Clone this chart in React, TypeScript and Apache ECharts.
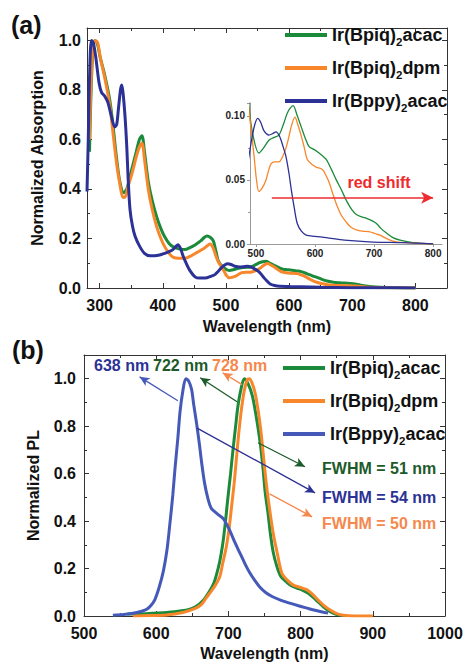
import React, { useEffect, useRef } from 'react';
import * as echarts from 'echarts';

// ---------- DATA ----------
const seriesNames = ['Ir(Bpiq)2acac', 'Ir(Bpiq)2dpm', 'Ir(Bppy)2acac'];

// (a) absorption, [wavelength nm, normalized absorption]
const absBpiqAcac: [number, number][] = [
  [284, 0.55], [288, 0.9], [292, 1.0], [296, 0.99], [301, 0.93], [308, 0.86], [316, 0.76], [321, 0.66],
  [327, 0.52], [332, 0.43], [338, 0.385], [343, 0.4], [351, 0.48], [358, 0.55], [363, 0.6], [367, 0.615],
  [371, 0.55], [377, 0.43], [383, 0.356], [390, 0.29], [397, 0.24], [403, 0.207], [410, 0.18], [416, 0.167],
  [425, 0.158], [435, 0.155], [443, 0.163], [451, 0.174], [460, 0.19], [466, 0.205], [470, 0.21], [475, 0.205],
  [480, 0.19], [484, 0.15], [488, 0.109], [495, 0.085], [505, 0.071], [513, 0.075], [522, 0.081], [530, 0.083],
  [539, 0.085], [547, 0.094], [553, 0.102], [558, 0.106], [563, 0.108], [570, 0.1], [577, 0.091], [584, 0.082],
  [590, 0.076], [597, 0.074], [604, 0.072], [612, 0.069], [619, 0.066], [628, 0.058], [636, 0.05], [645, 0.042],
  [653, 0.034], [662, 0.027], [670, 0.023], [680, 0.021], [687, 0.02], [697, 0.018], [704, 0.016], [712, 0.012],
  [721, 0.0085], [732, 0.005], [744, 0.003], [766, 0.001], [800, 0.0]
];
const absBpiqDpm: [number, number][] = [
  [284, 0.6], [288, 0.92], [293, 1.0], [297, 0.99], [301, 0.93], [308, 0.85], [316, 0.74], [321, 0.63],
  [327, 0.5], [332, 0.42], [337, 0.365], [341, 0.37], [345, 0.41], [351, 0.46], [358, 0.53], [363, 0.57],
  [367, 0.585], [371, 0.52], [377, 0.4], [383, 0.32], [390, 0.25], [397, 0.2], [403, 0.167], [410, 0.14],
  [416, 0.125], [425, 0.12], [435, 0.12], [445, 0.13], [455, 0.145], [465, 0.16], [471, 0.172], [475, 0.178],
  [480, 0.16], [484, 0.13], [488, 0.105], [493, 0.085], [497, 0.068], [501, 0.05], [505, 0.041], [511, 0.044],
  [517, 0.05], [525, 0.062], [532, 0.064], [539, 0.064], [545, 0.068], [551, 0.075], [556, 0.084], [560, 0.092],
  [566, 0.099], [571, 0.093], [577, 0.084], [582, 0.075], [587, 0.066], [595, 0.062], [602, 0.06], [613, 0.058],
  [619, 0.053], [624, 0.048], [631, 0.038], [638, 0.029], [645, 0.022], [653, 0.017], [661, 0.013], [670, 0.011],
  [680, 0.01], [693, 0.0095], [702, 0.008], [710, 0.007], [718, 0.005], [727, 0.003], [740, 0.0015], [755, 0.001],
  [800, 0.0]
];
const absBppyAcac: [number, number][] = [
  [280, 0.39], [282, 0.6], [284, 0.85], [287, 1.0], [290, 0.99], [294, 0.93], [299, 0.83], [303, 0.79],
  [308, 0.775], [313, 0.75], [318, 0.7], [324, 0.65], [327, 0.66], [330, 0.73], [333, 0.8], [335, 0.82],
  [337, 0.79], [340, 0.7], [343, 0.57], [345, 0.45], [348, 0.32], [352, 0.25], [356, 0.21], [363, 0.17],
  [371, 0.14], [380, 0.13], [387, 0.13], [395, 0.133], [403, 0.14], [410, 0.147], [416, 0.155], [421, 0.168],
  [424, 0.175], [428, 0.16], [432, 0.13], [437, 0.1], [443, 0.07], [451, 0.045], [458, 0.04], [467, 0.04],
  [477, 0.048], [483, 0.055], [488, 0.068], [493, 0.082], [498, 0.093], [503, 0.098], [508, 0.095], [514, 0.088],
  [522, 0.085], [528, 0.086], [534, 0.0875], [540, 0.084], [546, 0.076], [551, 0.068], [556, 0.055], [560, 0.042],
  [565, 0.028], [570, 0.016], [577, 0.01], [585, 0.007], [600, 0.006], [619, 0.005], [650, 0.003], [698, 0.0015],
  [750, 0.001], [800, 0.0]
];

// (b) photoluminescence, [wavelength nm, normalized PL]
const plBpiqAcac: [number, number][] = [
  [560, 0.008], [585, 0.01], [615, 0.015], [643, 0.025], [655, 0.04], [665, 0.065], [675, 0.11], [680, 0.14],
  [684, 0.18], [688, 0.23], [692, 0.3], [696, 0.4], [699, 0.49], [703, 0.6], [706, 0.69], [710, 0.8],
  [713, 0.88], [717, 0.95], [722, 1.0], [727, 0.98], [733, 0.93], [738, 0.85], [744, 0.73], [748, 0.62],
  [751, 0.52], [755, 0.43], [758, 0.35], [762, 0.27], [767, 0.21], [772, 0.17], [778, 0.15], [786, 0.13],
  [795, 0.118], [803, 0.108], [810, 0.097], [817, 0.08], [824, 0.06], [832, 0.038], [841, 0.018], [850, 0.006],
  [860, 0.002]
];
const plBpiqDpm: [number, number][] = [
  [568, 0.0], [590, 0.002], [614, 0.004], [637, 0.015], [655, 0.033], [663, 0.05], [669, 0.075], [675, 0.1],
  [682, 0.13], [688, 0.165], [692, 0.22], [697, 0.29], [701, 0.37], [704, 0.45], [708, 0.56], [711, 0.66],
  [714, 0.76], [718, 0.87], [722, 0.95], [726, 0.995], [729, 1.0], [733, 0.98], [737, 0.94], [741, 0.87],
  [745, 0.78], [748, 0.69], [751, 0.6], [754, 0.52], [758, 0.43], [762, 0.35], [768, 0.26], [774, 0.18],
  [782, 0.15], [790, 0.13], [800, 0.12], [809, 0.11], [817, 0.09], [824, 0.068], [832, 0.045], [841, 0.025],
  [850, 0.01], [859, 0.003], [875, 0.0], [900, 0.0]
];
const plBppyAcac: [number, number][] = [
  [540, 0.003], [555, 0.006], [568, 0.012], [580, 0.02], [587, 0.028], [593, 0.045], [598, 0.068], [604, 0.12],
  [610, 0.19], [615, 0.28], [619, 0.39], [623, 0.51], [626, 0.62], [630, 0.75], [633, 0.86], [637, 0.95],
  [641, 1.0], [645, 0.99], [649, 0.955], [652, 0.89], [656, 0.81], [660, 0.72], [663, 0.645], [667, 0.56],
  [672, 0.49], [676, 0.455], [681, 0.44], [687, 0.425], [693, 0.41], [697, 0.39], [702, 0.36], [709, 0.31],
  [716, 0.265], [723, 0.22], [730, 0.18], [737, 0.148], [744, 0.12], [752, 0.098], [762, 0.08], [773, 0.066],
  [785, 0.054], [797, 0.043], [809, 0.033], [820, 0.024], [830, 0.017], [838, 0.012]
];

// annotation labels
const peakLabels = ['638 nm', '722 nm', '728 nm'];
const fwhmLabels = ['FWHM = 51 nm', 'FWHM = 54 nm', 'FWHM = 50 nm'];
// arrows in data space of panel (b): [from, to]
const peakArrows: [[number, number], [number, number]][] = [
  [[630, 0.907], [577, 1.008]],
  [[712, 0.903], [661, 1.004]],
  [[719, 0.975], [692, 1.025]]
];
const fwhmArrows: [[number, number], [number, number]][] = [
  [[741, 0.73], [806, 0.629]],
  [[656, 0.793], [820, 0.519]],
  [[757, 0.515], [816, 0.418]]
];
const redShiftArrow: [[number, number], [number, number]] = [[527, 0.036], [800, 0.036]];

// ---------- STYLE ----------
const FONT = '"Liberation Sans", Arial, Helvetica, sans-serif';
const GREEN = '#1b8a3a';
const ORANGE = '#f7872a';
const NAVY = '#2c3195';
const BLUE_B = '#4559b8';
const DKGREEN = '#1d5a2a';
const LTORANGE = '#f5884c';
const RED = '#ee2b2e';

const fmtName = (n: string) => n.replace(/^PL /, '').replace(')2', '){s|2}');

function legendCfg(left: number, top: number, names: string[]) {
  return {
    orient: 'vertical',
    left,
    top,
    padding: 0,
    itemWidth: 42,
    itemHeight: 4,
    itemGap: 7,
    icon: 'rect',
    selectedMode: false,
    data: names,
    formatter: fmtName,
    textStyle: {
      fontFamily: FONT,
      fontWeight: 'bold',
      fontSize: 18,
      color: '#111',
      lineHeight: 19,
      rich: {
        s: { fontFamily: FONT, fontWeight: 'bold', fontSize: 11.5, lineHeight: 11, padding: [14, 0, 0, 0], color: '#111' }
      }
    }
  };
}

const lab = (size: number) => ({ fontFamily: FONT, fontWeight: 'bold', fontSize: size, color: '#111' });

function frameAxis(extra: any) {
  return {
    type: 'value',
    axisLine: { show: true, onZero: false, lineStyle: { color: '#333', width: 1 } },
    axisTick: { show: true, inside: true, length: 5, lineStyle: { color: '#333' } },
    minorTick: { show: true, splitNumber: 2, length: 3, lineStyle: { color: '#333' } },
    splitLine: { show: false },
    minorSplitLine: { show: false },
    axisLabel: { show: false },
    ...extra
  };
}

function buildOption() {
  const lineSeries = (name: string, data: any, color: string, xi: number, yi: number, width: number, extra: any = {}) => ({
    type: 'line', name, data, xAxisIndex: xi, yAxisIndex: yi, showSymbol: false, symbol: 'none', smooth: 0.3,
    color, itemStyle: { color }, lineStyle: { color, width }, emphasis: { disabled: true }, silent: true, ...extra
  });
  const arrowItem = (a: [[number, number], [number, number]], color: string, width: number) => [
    { coord: a[0], lineStyle: { color, width, type: 'solid' }, itemStyle: { color } },
    { coord: a[1] }
  ];

  return {
    animation: false,
    backgroundColor: '#fff',
    grid: [
      { left: 87, top: 28, width: 360, height: 260 },
      { left: 250, top: 103, width: 192, height: 141 },
      { left: 84, top: 355, width: 361, height: 261 }
    ],
    legend: [
      legendCfg(285, 22, seriesNames),
      legendCfg(283, 355, seriesNames.map((n) => 'PL ' + n))
    ],
    xAxis: [
      frameAxis({
        gridIndex: 0, position: 'bottom', min: 280, max: 850, splitNumber: 5,
        axisLabel: { show: true, ...lab(16), margin: 9, showMinLabel: false, showMaxLabel: false, formatter: (v: number) => String(v) },
        name: 'Wavelength (nm)', nameLocation: 'middle', nameGap: 30, nameTextStyle: lab(16)
      }),
      frameAxis({ gridIndex: 0, position: 'top', min: 280, max: 850, splitNumber: 5 }),
      {
        type: 'value', gridIndex: 1, position: 'bottom', min: 490, max: 815, splitNumber: 3,
        axisLine: { show: true, onZero: false, lineStyle: { color: '#9a9a9a', width: 1 } },
        axisTick: { show: true, inside: false, length: 3, lineStyle: { color: '#9a9a9a' } },
        minorTick: { show: false },
        splitLine: { show: false },
        axisLabel: { ...lab(10), color: '#222', margin: 4, showMinLabel: false, showMaxLabel: false, formatter: (v: number) => String(v) }
      },
      frameAxis({
        gridIndex: 2, position: 'bottom', min: 500, max: 1000, interval: 100,
        axisLabel: { show: true, ...lab(16), margin: 9, formatter: (v: number) => String(v) },
        name: 'Wavelength (nm)', nameLocation: 'middle', nameGap: 29, nameTextStyle: lab(16)
      }),
      frameAxis({ gridIndex: 2, position: 'top', min: 500, max: 1000, interval: 100 })
    ],
    yAxis: [
      frameAxis({
        gridIndex: 0, position: 'left', min: 0, max: 1.05, interval: 0.2,
        axisLabel: { show: true, ...lab(16), margin: 6, showMaxLabel: false, formatter: (v: number) => v.toFixed(1) },
        name: 'Normalized Absorption', nameLocation: 'middle', nameGap: 42, nameTextStyle: lab(16)
      }),
      frameAxis({ gridIndex: 0, position: 'right', min: 0, max: 1.05, interval: 0.2 }),
      {
        type: 'value', gridIndex: 1, position: 'left', min: 0, max: 0.11, interval: 0.05,
        axisLine: { show: true, onZero: false, lineStyle: { color: '#9a9a9a', width: 1 } },
        axisTick: { show: true, inside: false, length: 3, lineStyle: { color: '#9a9a9a' } },
        minorTick: { show: true, splitNumber: 2, length: 2, lineStyle: { color: '#9a9a9a' } },
        splitLine: { show: false },
        axisLabel: { ...lab(10), color: '#222', margin: 5, showMaxLabel: false, formatter: (v: number) => v.toFixed(2) }
      },
      frameAxis({
        gridIndex: 2, position: 'left', min: 0, max: 1.1, interval: 0.2,
        axisLabel: { show: true, ...lab(16), margin: 8, showMaxLabel: false, formatter: (v: number) => v.toFixed(1) },
        name: 'Normalized PL', nameLocation: 'middle', nameGap: 43, nameTextStyle: lab(16)
      }),
      frameAxis({ gridIndex: 2, position: 'right', min: 0, max: 1.1, interval: 0.2 })
    ],
    series: [
      lineSeries(seriesNames[0], absBpiqAcac, GREEN, 0, 0, 3),
      lineSeries(seriesNames[1], absBpiqDpm, ORANGE, 0, 0, 3),
      lineSeries(seriesNames[2], absBppyAcac, NAVY, 0, 0, 3),
      lineSeries('inset ' + seriesNames[0], absBpiqAcac, GREEN, 2, 2, 1.3),
      lineSeries('inset ' + seriesNames[1], absBpiqDpm, ORANGE, 2, 2, 1.3),
      lineSeries('inset ' + seriesNames[2], absBppyAcac, NAVY, 2, 2, 1.3, {
        markLine: {
          silent: true, symbol: ['none', 'arrow'], symbolSize: [9, 12], label: { show: false },
          emphasis: { disabled: true },
          data: [arrowItem(redShiftArrow, RED, 1.6)]
        }
      }),
      lineSeries('PL ' + seriesNames[0], plBpiqAcac, GREEN, 3, 3, 3),
      lineSeries('PL ' + seriesNames[1], plBpiqDpm, ORANGE, 3, 3, 3),
      lineSeries('PL ' + seriesNames[2], plBppyAcac, BLUE_B, 3, 3, 3, {
        markLine: {
          silent: true, symbol: ['none', 'arrow'], symbolSize: [7, 10], label: { show: false },
          emphasis: { disabled: true },
          data: [
            arrowItem(peakArrows[0], BLUE_B, 1.3),
            arrowItem(peakArrows[1], DKGREEN, 1.3),
            arrowItem(peakArrows[2], LTORANGE, 1.3),
            arrowItem(fwhmArrows[0], DKGREEN, 1.3),
            arrowItem(fwhmArrows[1], NAVY, 1.3),
            arrowItem(fwhmArrows[2], LTORANGE, 1.3)
          ]
        }
      })
    ],
    graphic: [
      { type: 'text', x: 11, y: 25, silent: true, style: { text: '(a)', fill: '#111', font: `bold 25px ${FONT}`, verticalAlign: 'middle' } },
      { type: 'text', x: 12, y: 350, silent: true, style: { text: '(b)', fill: '#111', font: `bold 25px ${FONT}`, verticalAlign: 'middle' } },
      { type: 'text', x: 379, y: 182, silent: true, style: { text: 'red shift', fill: RED, font: `bold 16px ${FONT}`, align: 'center', verticalAlign: 'middle' } },
      { type: 'text', x: 94, y: 365, silent: true, style: { text: peakLabels[0], fill: NAVY, font: `bold 16px ${FONT}`, verticalAlign: 'middle' } },
      { type: 'text', x: 153, y: 365, silent: true, style: { text: peakLabels[1], fill: DKGREEN, font: `bold 16px ${FONT}`, verticalAlign: 'middle' } },
      { type: 'text', x: 212, y: 365, silent: true, style: { text: peakLabels[2], fill: LTORANGE, font: `bold 16px ${FONT}`, verticalAlign: 'middle' } },
      { type: 'text', x: 322, y: 468, silent: true, style: { text: fwhmLabels[0], fill: DKGREEN, font: `bold 16px ${FONT}`, verticalAlign: 'middle' } },
      { type: 'text', x: 322, y: 497, silent: true, style: { text: fwhmLabels[1], fill: NAVY, font: `bold 16px ${FONT}`, verticalAlign: 'middle' } },
      { type: 'text', x: 322, y: 523, silent: true, style: { text: fwhmLabels[2], fill: LTORANGE, font: `bold 16px ${FONT}`, verticalAlign: 'middle' } }
    ]
  };
}

export default function App() {
  const ref = useRef<HTMLDivElement>(null);
  useEffect(() => {
    document.body.style.margin = '0';
    const chart = echarts.init(ref.current as HTMLDivElement, null, { renderer: 'svg' });
    chart.setOption(buildOption() as any);
    return () => chart.dispose();
  }, []);
  return <div ref={ref} style={{ width: 466, height: 663 }} />;
}
